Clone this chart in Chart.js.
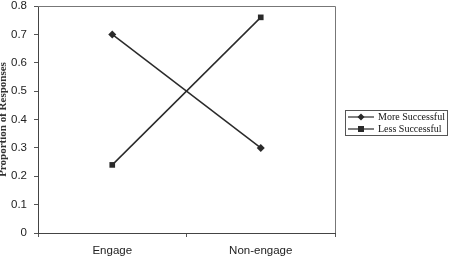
<!DOCTYPE html>
<html>
<head>
<meta charset="utf-8">
<script src="https://cdn.jsdelivr.net/npm/chart.js@4"></script>
<style>
  html, body { margin: 0; padding: 0; background: #fff; }
  #wrap { width: 455px; height: 260px; position: relative; }
</style>
</head>
<body>
<div id="wrap"><canvas id="chart" width="455" height="260"></canvas></div>
<script>
const categories = ['Engage', 'Non-engage']
const moreSuccessful = [0.70, 0.30]
const lessSuccessful = [0.24, 0.76]
const yTicks = [0, 0.1, 0.2, 0.3, 0.4, 0.5, 0.6, 0.7, 0.8]
const yTitle = 'Proportion of Responses'

const ink = '#2a2a2a'

// plot frame, y title (partly cut at the left edge) and boxed legend
const framePlugin = {
  id: 'frame',
  afterDraw(chart){
    const {ctx, chartArea: a} = chart
    ctx.save()
    ctx.strokeStyle = '#777'
    ctx.lineWidth = 1
    ctx.beginPath()
    ctx.moveTo(a.left, a.top + 0.5); ctx.lineTo(a.right + 0.5, a.top + 0.5); ctx.lineTo(a.right + 0.5, a.bottom)
    ctx.stroke()

    // rotated axis title
    ctx.save()
    ctx.translate(6, (a.top + a.bottom) / 2)
    ctx.rotate(-Math.PI / 2)
    ctx.font = 'bold 11px "Liberation Serif", "Times New Roman", serif'
    ctx.fillStyle = '#333'
    ctx.textAlign = 'center'
    ctx.textBaseline = 'alphabetic'
    ctx.fillText(yTitle, 0, 0)
    ctx.restore()

    const lx = 345, ly = 110, lw = 102, lh = 25
    ctx.strokeStyle = '#555'
    ctx.strokeRect(lx + 0.5, ly + 0.5, lw, lh)
    ctx.font = '10px "Liberation Serif", "Times New Roman", serif'
    ctx.textBaseline = 'middle'
    chart.data.datasets.forEach((ds, i) => {
      const y = ly + 7 + i * 12
      ctx.strokeStyle = ink; ctx.lineWidth = 1.2
      ctx.beginPath(); ctx.moveTo(lx + 3, y); ctx.lineTo(lx + 29, y); ctx.stroke()
      ctx.fillStyle = ink
      const cx = lx + 16
      if(ds.pointStyle === 'rectRot'){
        ctx.beginPath(); ctx.moveTo(cx, y - 3.5); ctx.lineTo(cx + 3.5, y); ctx.lineTo(cx, y + 3.5); ctx.lineTo(cx - 3.5, y); ctx.closePath(); ctx.fill()
      } else {
        ctx.fillRect(cx - 3, y - 3, 6, 6)
      }
      ctx.fillStyle = '#111'
      ctx.fillText(ds.label, lx + 33, y + 0.5)
    })
    ctx.restore()
  }
}

new Chart(document.getElementById('chart'), {
  type: 'line',
  data: {
    labels: categories,
    datasets: [
      {label: 'More Successful', data: moreSuccessful, borderColor: ink, backgroundColor: ink, borderWidth: 1.5,
       pointStyle: 'rectRot', pointRadius: 4, pointBorderWidth: 0, tension: 0},
      {label: 'Less Successful', data: lessSuccessful, borderColor: ink, backgroundColor: ink, borderWidth: 1.5,
       pointStyle: 'rect', pointRadius: 4, pointBorderWidth: 0, tension: 0}
    ]
  },
  options: {
    responsive: false,
    animation: false,
    layout: {padding: {left: 0, right: 120, top: 0, bottom: 0}},
    plugins: {legend: {display: false}, tooltip: {enabled: false}},
    scales: {
      x: {
        offset: true,
        grid: {offset: true, drawOnChartArea: false, tickLength: 4, color: '#555'},
        border: {color: '#444', width: 1},
        ticks: {color: '#222', font: {family: '"Liberation Sans", Arial, sans-serif', size: 11.5}, padding: 7},
        afterFit: s => { s.height = 27 }
      },
      y: {
        min: 0, max: 0.8,
        afterBuildTicks: s => { s.ticks = yTicks.map(v => ({value: v})) },
        grid: {drawOnChartArea: false, tickLength: 4, color: '#555'},
        border: {color: '#444', width: 1},
        ticks: {color: '#222', font: {family: '"Liberation Sans", Arial, sans-serif', size: 11.5}, padding: 7,
                callback: v => v === 0 ? '0' : v.toFixed(1)},
        afterFit: s => { s.width = 38; s.paddingTop = 6; s.paddingBottom = 0 }
      }
    }
  },
  plugins: [framePlugin]
})
</script>
</body>
</html>
